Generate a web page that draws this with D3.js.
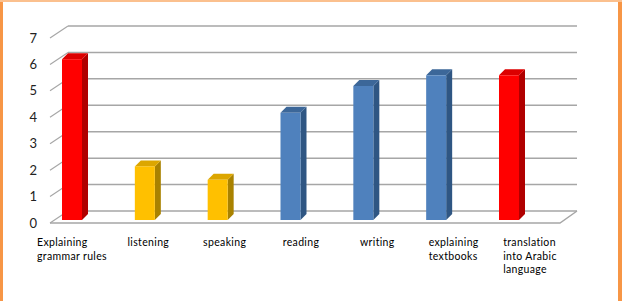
<!DOCTYPE html>
<html>
<head>
<meta charset="utf-8">
<script src="https://cdnjs.cloudflare.com/ajax/libs/d3/7.8.5/d3.min.js"></script>
<style>
body { margin: 0; background: #fff; }
#canvas { width: 622px; height: 301px; }
</style>
</head>
<body>
<div id="canvas"></div>
<script>
var categories = ["Explaining grammar rules", "listening", "speaking", "reading", "writing", "explaining textbooks", "translation into Arabic language"];
var labelLines = [["Explaining", "grammar rules"], ["listening"], ["speaking"], ["reading"], ["writing"], ["explaining", "textbooks"], ["translation", "into Arabic", "language"]];
var values = [6, 2, 1.5, 4, 5, 5.4, 5.4];
var barGroups = ["red", "yellow", "yellow", "blue", "blue", "blue", "red"];
var yTicks = [0, 1, 2, 3, 4, 5, 6, 7];

var palette = {
	red: { front: "#ff0000", side: "#b00000", top: "#dc0000" },
	yellow: { front: "#ffc000", side: "#a98200", top: "#dca600" },
	blue: { front: "#4f81bd", side: "#2f5683", top: "#3c6799" }
};

var svg = d3.select("#canvas").append("svg")
	.attr("width", 622)
	.attr("height", 301);

// border (orange frame, no bottom edge visible)
svg.append("line").attr("x1", 1.5).attr("y1", 0).attr("x2", 1.5).attr("y2", 301)
	.attr("stroke", "#f79646").attr("stroke-width", 3);
svg.append("line").attr("x1", 620).attr("y1", 0).attr("x2", 620).attr("y2", 301)
	.attr("stroke", "#f79646").attr("stroke-width", 4);
svg.append("line").attr("x1", 0).attr("y1", 1).attr("x2", 622).attr("y2", 1)
	.attr("stroke", "#fbc08e").attr("stroke-width", 2);

// scales: front edge of floor, back wall, bar plane
var yFront = d3.scaleLinear().domain([0, 7]).range([223, 38]);
var yBack = d3.scaleLinear().domain([0, 7]).range([211, 26]);
var yBar = d3.scaleLinear().domain([0, 7]).range([220, 32.4]);
var xBar = d3.scalePoint().domain(categories).range([72, 509]);
var xLabel = d3.scalePoint().domain(categories).range([72, 530]);

var wallLeft = 68, wallRight = 577, frontLeft = 50, frontRight = 560;
var barW = 20, depthX = 6, depthY = 6;
var gridColor = "#a6a6a6";

// back wall gridlines
svg.selectAll("line.grid").data(yTicks)
	.enter().append("line")
	.attr("class", "grid")
	.attr("x1", wallLeft).attr("x2", wallRight)
	.attr("y1", function(d){ return yBack(d); })
	.attr("y2", function(d){ return yBack(d); })
	.attr("stroke", gridColor)
	.attr("stroke-width", 1.5);

// side wall diagonals
svg.selectAll("line.diag").data(yTicks)
	.enter().append("line")
	.attr("class", "diag")
	.attr("x1", frontLeft).attr("x2", wallLeft)
	.attr("y1", function(d){ return yFront(d); })
	.attr("y2", function(d){ return yBack(d); })
	.attr("stroke", gridColor)
	.attr("stroke-width", 1.2);

// floor edges
svg.append("polyline")
	.attr("points", [[frontLeft, yFront(0)], [frontRight, yFront(0)], [wallRight, yBack(0)]].join(" "))
	.attr("fill", "none")
	.attr("stroke", gridColor)
	.attr("stroke-width", 1.5);

// tick labels
svg.selectAll("text.tick").data(yTicks)
	.enter().append("text")
	.attr("class", "tick")
	.attr("x", 37)
	.attr("y", function(d){ return yFront(d) + 4.5; })
	.attr("text-anchor", "end")
	.style("font-family", "Lato, 'Open Sans', sans-serif")
	.style("font-size", "13px")
	.style("fill", "#222")
	.text(function(d){ return d; });

// bars
var bars = svg.selectAll("g.bar").data(categories)
	.enter().append("g")
	.attr("class", "bar");

bars.append("polygon")
	.attr("points", function(d, i){
		var x = xBar(d) - barW / 2 + barW, y0 = yBar(0), y1 = yBar(values[i]);
		return [[x, y0], [x + depthX, y0 - depthY], [x + depthX, y1 - depthY], [x, y1]].join(" ");
	})
	.attr("fill", function(d, i){ return palette[barGroups[i]].side; });

bars.append("polygon")
	.attr("points", function(d, i){
		var x = xBar(d) - barW / 2, y1 = yBar(values[i]);
		return [[x, y1], [x + depthX, y1 - depthY], [x + barW + depthX, y1 - depthY], [x + barW, y1]].join(" ");
	})
	.attr("fill", function(d, i){ return palette[barGroups[i]].top; });

bars.append("rect")
	.attr("x", function(d){ return xBar(d) - barW / 2; })
	.attr("y", function(d, i){ return yBar(values[i]); })
	.attr("width", barW)
	.attr("height", function(d, i){ return yBar(0) - yBar(values[i]); })
	.attr("fill", function(d, i){ return palette[barGroups[i]].front; });

// category labels: left-aligned block, centred on the widest line
var labels = svg.selectAll("text.cat").data(categories)
	.enter().append("text")
	.attr("class", "cat")
	.style("font-family", "Lato, 'Open Sans', sans-serif")
	.style("font-size", "10.5px")
	.style("letter-spacing", "0.35px")
	.style("fill", "#000");

labels.selectAll("tspan").data(function(d, i){
		return labelLines[i];
	})
	.enter().append("tspan")
	.attr("y", function(d, j){ return 246 + j * 13.5; })
	.text(function(d){ return d; });

labels.each(function(d){
	var spans = d3.select(this).selectAll("tspan");
	var maxW = 0;
	spans.each(function(){ maxW = Math.max(maxW, this.getComputedTextLength()); });
	spans.attr("x", xLabel(d) - maxW / 2);
});
</script>
</body>
</html>
